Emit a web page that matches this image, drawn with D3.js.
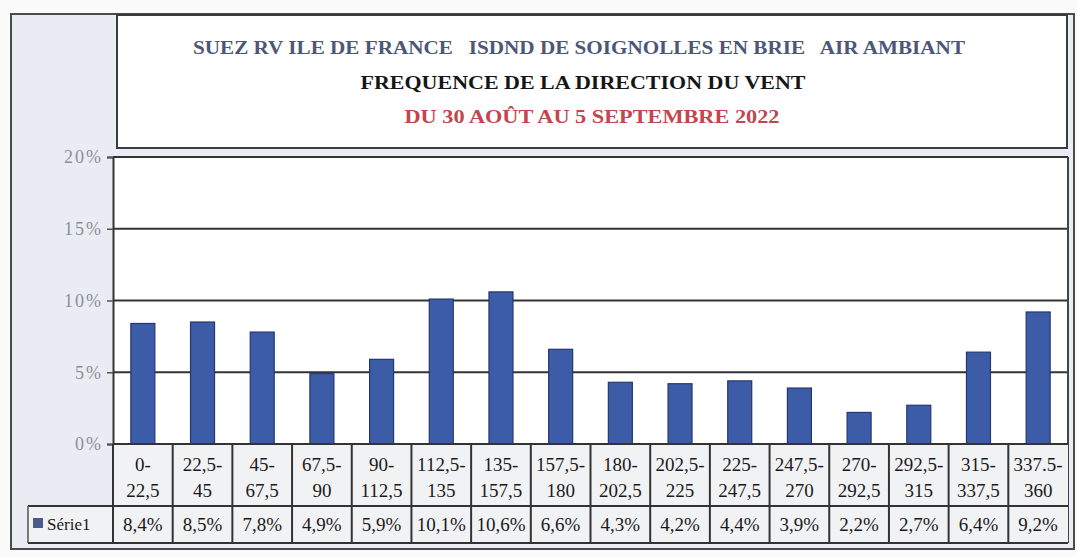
<!DOCTYPE html>
<html lang="fr">
<head>
<meta charset="UTF-8">
<title>Fréquence de la direction du vent</title>
<script src="https://cdn.jsdelivr.net/npm/d3@7"></script>
<style>
  body { margin: 0; background: #fbfbfb; }
  svg { display: block; font-family: "Liberation Serif", "DejaVu Serif", serif; }
</style>
</head>
<body>
<main></main>
<script>
// data
var titleLines = [
  'SUEZ RV ILE DE FRANCE   ISDND DE SOIGNOLLES EN BRIE   AIR AMBIANT',
  'FREQUENCE DE LA DIRECTION DU VENT',
  'DU 30 AOÛT AU 5 SEPTEMBRE 2022'
];
var sectors = ['0-22,5', '22,5-45', '45-67,5', '67,5-90', '90-112,5', '112,5-135',
  '135-157,5', '157,5-180', '180-202,5', '202,5-225', '225-247,5', '247,5-270',
  '270-292,5', '292,5-315', '315-337,5', '337.5-360'];
var serie1 = [8.4, 8.5, 7.8, 4.9, 5.9, 10.1, 10.6, 6.6, 4.3, 4.2, 4.4, 3.9, 2.2, 2.7, 6.4, 9.2];
var serie1Labels = ['8,4%', '8,5%', '7,8%', '4,9%', '5,9%', '10,1%', '10,6%', '6,6%',
  '4,3%', '4,2%', '4,4%', '3,9%', '2,2%', '2,7%', '6,4%', '9,2%'];
var yTicks = [0, 5, 10, 15, 20];
var seriesName = 'Série1';

var w = 1077, h = 557;
var plot = {left: 113, right: 1068, top: 157, bottom: 444};
var row1 = {top: 444, bottom: 506}, row2 = {top: 506, bottom: 543};

var svg = d3.select('main').append('svg')
  .attr('width', w).attr('height', h);

// outer frame + grey panel
svg.append('rect').attr('x', 11).attr('y', 14).attr('width', 1063).attr('height', 535)
  .attr('fill', '#e9ecf2').attr('stroke', '#4a4a4a').attr('stroke-width', 2);

// title box
svg.append('rect').attr('x', 117).attr('y', 15).attr('width', 950).attr('height', 133)
  .attr('fill', '#ffffff').attr('stroke', '#3c3c3c').attr('stroke-width', 2);

var titleColors = ['#4d5777', '#161616', '#c2464e'];
var titleY = [54, 89, 123];
var titleLen = [772, 445, 375];
var titleX = [579, 583, 592];
titleLines.forEach(function(t, i) {
  svg.append('text')
    .attr('x', titleX[i]).attr('y', titleY[i])
    .attr('text-anchor', 'middle')
    .attr('font-size', '19px').attr('font-weight', 'bold')
    .attr('fill', titleColors[i])
    .style('white-space', 'pre')
    .attr('textLength', titleLen[i]).attr('lengthAdjust', 'spacingAndGlyphs')
    .text(t);
});

// scales
var x = d3.scaleBand().domain(sectors).range([plot.left, plot.right]);
var y = d3.scaleLinear().domain([0, 20]).range([plot.bottom, plot.top]);

// plot area
svg.append('rect').attr('x', plot.left).attr('y', plot.top)
  .attr('width', plot.right - plot.left).attr('height', plot.bottom - plot.top)
  .attr('fill', '#ffffff');

// gridlines
svg.append('g').selectAll('line')
  .data(yTicks.filter(function(d) { return d > 0; }))
  .enter().append('line')
  .attr('x1', plot.left).attr('x2', plot.right)
  .attr('y1', function(d) { return y(d); }).attr('y2', function(d) { return y(d); })
  .attr('stroke', '#333').attr('stroke-width', 2);

// y axis
var yAxis = svg.append('g')
  .attr('transform', 'translate(' + plot.left + ',0)')
  .call(d3.axisLeft(y).tickValues(yTicks).tickSize(6).tickPadding(4)
    .tickFormat(function(d) { return d + '%'; }));
yAxis.attr('font-size', null).attr('font-family', null);
yAxis.select('.domain').attr('stroke', '#333').attr('stroke-width', 2);
yAxis.selectAll('.tick line').attr('stroke', '#555').attr('stroke-width', 1.5);
yAxis.selectAll('.tick text')
  .style('font-family', '"Liberation Serif", serif').style('font-size', '18px')
  .style('letter-spacing', '2px')
  .attr('fill', '#8a8f99');

// right border
svg.append('line').attr('x1', plot.right).attr('x2', plot.right)
  .attr('y1', plot.top).attr('y2', row2.bottom)
  .attr('stroke', '#444').attr('stroke-width', 2);

// bars
var bw = 24;
svg.append('g').selectAll('rect')
  .data(serie1)
  .enter().append('rect')
  .attr('x', function(d, i) { return x(sectors[i]) + (x.bandwidth() - bw) / 2; })
  .attr('y', function(d) { return y(d); })
  .attr('width', bw)
  .attr('height', function(d) { return y(0) - y(d); })
  .attr('fill', '#3d5ca8')
  .attr('stroke', '#22386f').attr('stroke-width', 1.2);

// data table
var table = svg.append('g');
table.append('rect').attr('x', plot.left).attr('y', row1.top)
  .attr('width', plot.right - plot.left).attr('height', row1.bottom - row1.top)
  .attr('fill', '#f1f2f4');
table.append('rect').attr('x', 28).attr('y', row2.top)
  .attr('width', plot.right - 28).attr('height', row2.bottom - row2.top)
  .attr('fill', '#f1f2f4');

// horizontal table lines
[[plot.left, row1.top], [28, row2.top], [28, row2.bottom]].forEach(function(p) {
  table.append('line').attr('x1', p[0]).attr('x2', plot.right)
    .attr('y1', p[1]).attr('y2', p[1])
    .attr('stroke', '#333').attr('stroke-width', 2);
});
// vertical table lines
table.selectAll('line.v')
  .data(sectors)
  .enter().append('line')
  .attr('class', 'v')
  .attr('x1', function(d) { return x(d); }).attr('x2', function(d) { return x(d); })
  .attr('y1', row1.top).attr('y2', row2.bottom)
  .attr('stroke', '#333').attr('stroke-width', 2);
table.append('line').attr('x1', 28).attr('x2', 28)
  .attr('y1', row2.top).attr('y2', row2.bottom)
  .attr('stroke', '#555').attr('stroke-width', 1.5);

// category labels (two lines)
sectors.forEach(function(s) {
  var k = s.indexOf('-');
  var parts = [s.slice(0, k + 1), s.slice(k + 1)];
  var t = table.append('text')
    .attr('x', x(s) + x.bandwidth() / 2)
    .attr('text-anchor', 'middle')
    .attr('font-size', '19px').attr('fill', '#1a1a1a');
  t.append('tspan').attr('x', x(s) + x.bandwidth() / 2).attr('y', 471).text(parts[0]);
  t.append('tspan').attr('x', x(s) + x.bandwidth() / 2).attr('y', 497).text(parts[1]);
});

// value row
table.selectAll('text.val')
  .data(serie1Labels)
  .enter().append('text')
  .attr('class', 'val')
  .attr('x', function(d, i) { return x(sectors[i]) + x.bandwidth() / 2; })
  .attr('y', 531)
  .attr('text-anchor', 'middle')
  .attr('font-size', '19px').attr('fill', '#1a1a1a')
  .text(function(d) { return d; });

// legend key
table.append('rect').attr('x', 33).attr('y', 518).attr('width', 10).attr('height', 10)
  .attr('fill', '#4d5a8c');
table.append('text').attr('x', 47).attr('y', 530)
  .attr('font-size', '17px').attr('fill', '#1a1a1a')
  .text(seriesName);
</script>
</body>
</html>
